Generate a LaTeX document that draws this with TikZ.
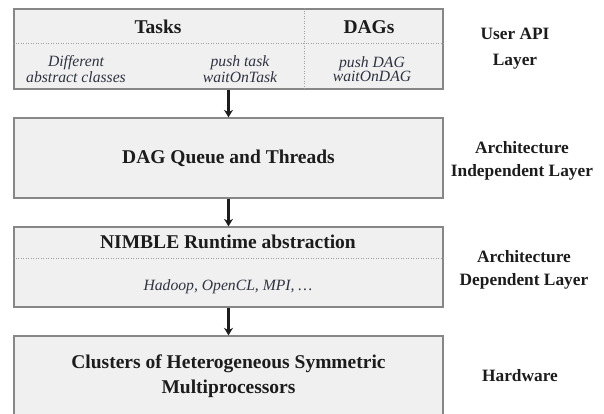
\documentclass[tikz,border=0pt]{standalone}
\usepackage{fontspec}
\setmainfont{Liberation Serif}
\usepackage{tikz}
\usetikzlibrary{arrows.meta,positioning,calc,shadows}
\definecolor{LayerInk}{HTML}{1C1C1C}
\definecolor{LayerEdge}{HTML}{878787}
\definecolor{LayerFill}{HTML}{F0F0F0}
\definecolor{NoteInk}{HTML}{2F3340}
\tikzset{
  layerbox/.style={draw=LayerEdge,line width=0.8pt,fill=LayerFill,inner sep=0pt,
    minimum width=257.4pt,minimum height=48pt,align=center,text=LayerInk,
    font=\fontsize{11.7}{15}\selectfont\bfseries,
    drop shadow={shadow xshift=0.7pt,shadow yshift=-0.7pt,opacity=0.3}},
  headtext/.style={text=LayerInk,font=\fontsize{11.7}{15}\selectfont\bfseries,inner sep=0pt},
  notetext/.style={text=NoteInk,align=center,inner sep=0pt,
    font=\fontsize{9.4}{8.4}\selectfont\itshape},
  sidetext/.style={text=LayerInk,align=center,inner sep=0pt,
    font=\fontsize{10.4}{14}\selectfont\bfseries},
  sepline/.style={draw=LayerEdge!80,densely dotted,line width=0.5pt},
  layerarrow/.style={-{Stealth[length=4.5pt,width=5.4pt]},line width=1.5pt,draw=LayerInk}
}

\begin{document}
\begin{tikzpicture}[x=0.6pt,y=-0.6pt]
  \useasboundingbox (0,0) rectangle (604,413);

  % the four layers
  \node[layerbox] (api) at (228.5,49) {};
  \node[layerbox] (queue) at (228.5,158) {DAG Queue and Threads};
  \node[layerbox] (runtime) at (228.5,267) {};
  \node[layerbox] (hw) at (228.5,376) {Clusters of Heterogeneous Symmetric\\Multiprocessors};

  % user API layer contents
  \coordinate (apisep) at (0,43);
  \coordinate (apisplit) at (304,0);
  \draw[sepline] (api.west |- apisep) -- (api.east |- apisep);
  \draw[sepline] (api.north -| apisplit) -- (api.south -| apisplit);
  \node[headtext] (tasks) at (158,27) {Tasks};
  \node[headtext] (dags) at (369,27) {DAGs};
  \node[notetext] (classes) at (76,69) {Different\\abstract classes};
  \node[notetext] (taskcalls) at (240,69) {push task\\waitOnTask};
  \node[notetext] (dagcalls) at (372,69) {push DAG\\waitOnDAG};

  % runtime layer contents
  \coordinate (rtsep) at (0,258);
  \draw[sepline] (runtime.west |- rtsep) -- (runtime.east |- rtsep);
  \node[headtext] (nimble) at (228,242) {NIMBLE Runtime abstraction};
  \node[notetext] (backends) at (228,287) {Hadoop, OpenCL, MPI, \dots};

  % layer names
  \node[sidetext,font=\fontsize{10.4}{15.5}\selectfont\bfseries] (apiname) at (515,49) {User API\\Layer};
  \node[sidetext] (indepname) at (522,161) {Architecture\\Independent Layer};
  \node[sidetext] (depname) at (524,270) {Architecture\\Dependent Layer};
  \node[sidetext] (hwname) at (520,376) {Hardware};

  \draw[layerarrow] (api) -- (queue);
  \draw[layerarrow] (queue) -- (runtime);
  \draw[layerarrow] (runtime) -- (hw);
\end{tikzpicture}
\end{document}
